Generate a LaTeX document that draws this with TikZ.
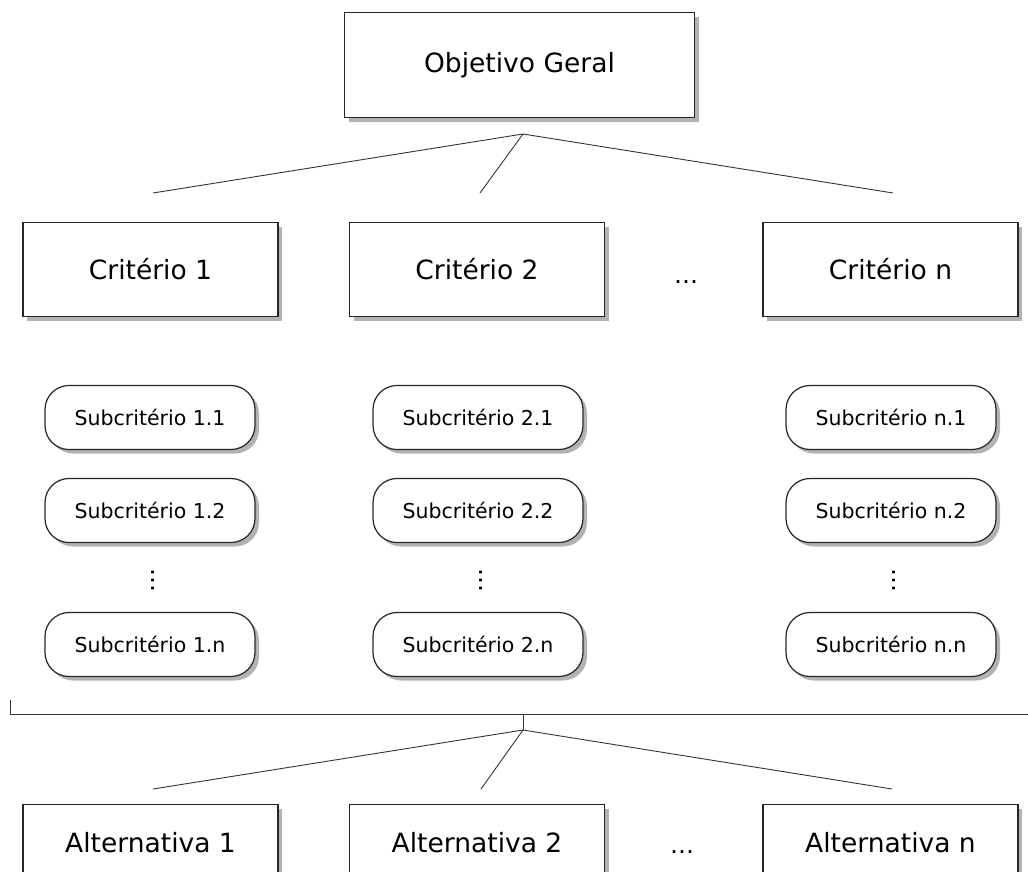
\documentclass[tikz,border=0pt]{standalone}
\usepackage{fontspec}
\setmainfont{DejaVu Sans}
\usetikzlibrary{shadows}
\tikzset{
  x=1pt, y=-1pt,
  shad/.style={drop shadow={shadow xshift=4pt, shadow yshift=-4pt, fill=black!30, opacity=1}},
  bigbox/.style={draw=black!85, line width=1.3pt, fill=white, shad, inner sep=0pt,
    minimum width=255pt, minimum height=94pt, font=\fontsize{26.5}{32}\selectfont},
  topbox/.style={bigbox, minimum width=350pt, minimum height=105pt},
  altbox/.style={bigbox, anchor=north, text height=48pt, text depth=46pt},
  subbox/.style={draw=black!85, line width=1.2pt, fill=white, shad, inner sep=0pt,
    rounded corners=24pt, minimum width=210pt, minimum height=64pt,
    font=\fontsize{20.5}{24}\selectfont},
  conn/.style={draw=black!80, line width=0.9pt},
  hdots/.style={anchor=base, inner sep=0pt, font=\fontsize{24}{30}\selectfont},
  vdots/.style={inner sep=0pt, font=\fontsize{24}{30}\selectfont},
}
\begin{document}
\begin{tikzpicture}
\useasboundingbox (0,0) rectangle (1028,871);
\clip (0,0) rectangle (1028,871);

% top
\node[topbox] (obj) at (519.5,65) {Objetivo Geral};

% criteria
\node[bigbox] (c1) at (150.5,269.5) {Critério 1};
\node[bigbox] (c2) at (477,269.5) {Critério 2};
\node[bigbox] (cn) at (890.5,269.5) {Critério n};
\node[hdots] (cdots) at (686,283) {…};

% connectors top
\coordinate (apex) at (523,134);
\coordinate (e1) at (153,193);
\coordinate (e2) at (480,193);
\coordinate (en) at (893,193);
\draw[conn] (e1) -- (apex) -- (en);
\draw[conn] (apex) -- (e2);

% subcriteria
\foreach \c/\x/\l in {1/150/1, 2/478/2, 3/891/n}{
  \node[subbox] (s\c a) at (\x,417.5) {Subcritério \l.1};
  \node[subbox] (s\c b) at (\x,510.5) {Subcritério \l.2};
  \node[vdots] (s\c d) at (\x+3,580) {\rotatebox{90}{…}};
  \node[subbox] (s\c n) at (\x,644.5) {Subcritério \l.n};
}

% bracket
\coordinate (bl) at (10,700);
\coordinate (blc) at (10,714);
\coordinate (br) at (1028,714);
\coordinate (bm) at (523,714);
\coordinate (apex2) at (523,730);
\draw[conn] (bl) -- (blc) -- (br);
\draw[conn] (bm) -- (apex2);
\coordinate (f1) at (153,789);
\coordinate (f2) at (481,789);
\coordinate (fn) at (892,789);
\draw[conn] (f1) -- (apex2) -- (fn);
\draw[conn] (apex2) -- (f2);

% alternatives
\node[altbox] (a1) at (150.5,804) {Alternativa 1};
\node[altbox] (a2) at (477,804) {Alternativa 2};
\node[altbox] (an) at (890.5,804) {Alternativa n};
\node[hdots] (adots) at (682,853) {…};
\end{tikzpicture}
\end{document}
